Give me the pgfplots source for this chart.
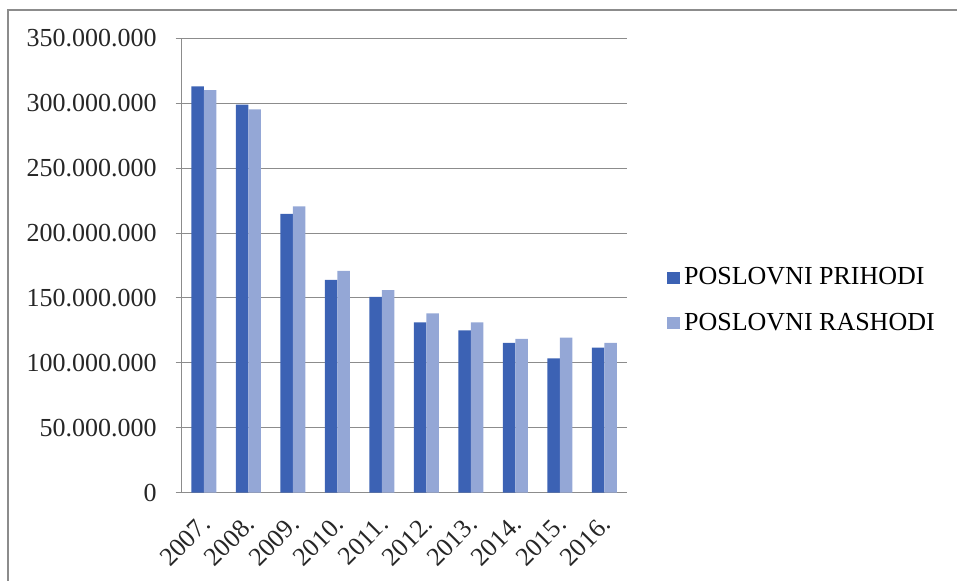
\documentclass[border=0pt]{standalone}
\usepackage{pgfplots}
\pgfplotsset{compat=1.18}
\usepackage{fontspec}
\setmainfont{Liberation Serif}
\definecolor{darkb}{HTML}{3C62B4}
\definecolor{lightb}{HTML}{94A7D6}
\definecolor{gridc}{HTML}{8C8C8C}
\pgfplotstableread{
x prih rash
0 313000000 310100000
1 299000000 295200000
2 214700000 220600000
3 163900000 170800000
4 150900000 156100000
5 131100000 138100000
6 125100000 131100000
7 115300000 118400000
8 103500000 119500000
9 111800000 115300000
}\datatable
\begin{document}
\begin{tikzpicture}
\useasboundingbox (0,0) rectangle (478.5pt,290.5pt);
\draw[gridc, line width=0.6pt] (4pt,0) -- (4pt,285.5pt) -- (478.5pt,285.5pt);
\begin{axis}[
  at={(90.85pt,44.15pt)}, anchor=south west,
  scale only axis, width=222.5pt, height=227.2pt,
  ybar=0pt, bar width=6.25pt,
  xmin=-0.5, xmax=9.5, ymin=0, ymax=350000000,
  axis x line*=bottom, axis y line*=left,
  axis line style={gridc, line width=0.5pt, -},
  xtick={0,...,9},
  xticklabels={2007.,2008.,2009.,2010.,2011.,2012.,2013.,2014.,2015.,2016.},
  x tick label style={rotate=45, anchor=north east, inner sep=1pt, yshift=-2.6pt, xshift=-5.8pt},
  major x tick style={draw=none},
  extra x ticks={-0.5,0.5,...,9.5},
  extra x tick labels={},
  extra x tick style={major tick length=3pt, tick align=outside, tick style={gridc, line width=0.5pt}, grid=none},
  ytick={0,50000000,100000000,150000000,200000000,250000000,300000000,350000000},
  scaled y ticks=false,
  /pgf/number format/fixed,
  /pgf/number format/precision=0,
  /pgf/number format/1000 sep={.},
  /pgf/number format/assume math mode=true,
  y tick label style={xshift=-6pt},
  ytick style={gridc, line width=0.5pt},
  major tick length=3pt, tick align=outside,
  ymajorgrids, grid style={gridc, line width=0.5pt},
  tick label style={font=\fontsize{13}{15}\selectfont, text=black!85},
  legend style={at={(1,0.423)}, anchor=west, xshift=20pt, draw=none, fill=none,
    font=\fontsize{13}{15}\selectfont, row sep=8.5pt, inner sep=0pt,
    /tikz/every even column/.append style={column sep=3.5pt}},
  legend cell align=left,
  legend image code/.code={\fill[#1] (0pt,-3pt) rectangle (6.5pt,3pt);},
]
\addplot[fill=darkb, draw=none] table[x=x, y=prih] {\datatable};
\addplot[fill=lightb, draw=none] table[x=x, y=rash] {\datatable};
\legend{POSLOVNI PRIHODI, POSLOVNI RASHODI}
\end{axis}
\end{tikzpicture}
\end{document}
